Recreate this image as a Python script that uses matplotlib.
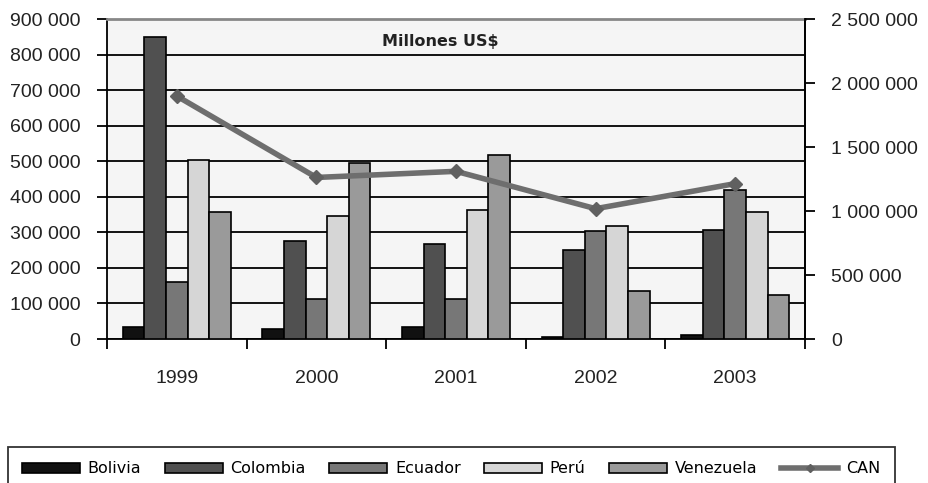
import matplotlib.pyplot as plt
import numpy as np

years = ['1999', '2000', '2001', '2002', '2003']
countries = ['Bolivia', 'Colombia', 'Ecuador', 'Perú', 'Venezuela']

bolivia = [35000, 28000, 35000, 6500, 12000]
colombia = [850000, 275000, 267000, 250000, 307000]
ecuador = [161000, 112000, 112000, 305000, 419000]
peru = [503000, 346000, 362000, 318000, 356000]
venezuela = [357000, 496000, 518000, 134000, 123000]
can = [1898000, 1262000, 1310000, 1018000, 1214000]

left_ticks = list(range(0, 900001, 100000))
right_ticks = list(range(0, 2500001, 500000))


def fmt(v):
    # thousands separated by a space
    return '{:,}'.format(v).replace(',', ' ')


plt.rcParams['font.family'] = ['Liberation Sans', 'DejaVu Sans']

fig = plt.figure(figsize=(9.29, 4.83), dpi=100)
ax = fig.add_axes([107 / 929, 1 - 339 / 483, (805 - 107) / 929, (339 - 19) / 483])
ax.set_facecolor('#f5f5f5')

series = [bolivia, colombia, ecuador, peru, venezuela]
colors = ['#111111', '#505050', '#777777', '#d6d6d6', '#9a9a9a']
x = np.arange(len(years))
w = 0.155
for k, (vals, col, name) in enumerate(zip(series, colors, countries)):
    ax.bar(x + (k - 2) * w, vals, width=w, color=col, edgecolor='black',
           linewidth=1.2, label=name, zorder=3)

ax.set_xlim(-0.5, len(years) - 0.5)
ax.set_ylim(0, 900000)
ax.set_yticks(left_ticks)
ax.set_yticklabels([fmt(v) for v in left_ticks], fontsize=14, color='#222222')
ax.yaxis.grid(True, color='black', linewidth=1.3, zorder=1)
ax.set_axisbelow(True)

ax.set_xticks(x)
ax.set_xticklabels(years, fontsize=14, color='#222222')
ax.set_xticks(np.arange(-0.5, len(years)), minor=True)
ax.tick_params(axis='x', which='major', length=0, pad=22)
ax.tick_params(axis='x', which='minor', length=7, width=1.3, direction='out')
ax.tick_params(axis='y', length=7, width=1.3, direction='out', pad=12)

for s in ['left', 'bottom', 'right']:
    ax.spines[s].set_linewidth(1.3)
    ax.spines[s].set_color('black')
ax.spines['top'].set_color('#888888')
ax.spines['top'].set_linewidth(2)

ax.text(0.477, 0.93, 'Millones US$', transform=ax.transAxes, ha='center',
        va='center', fontsize=11.5, fontweight='bold', color='#222222',
        family='DejaVu Sans')

ax2 = ax.twinx()
ax2.plot(x, can, color='#6e6e6e', linewidth=4, marker='D', markersize=7,
         markerfacecolor='#606060', markeredgecolor='#606060', label='CAN',
         zorder=5)
ax2.set_ylim(0, 2500000)
ax2.set_yticks(right_ticks)
ax2.set_yticklabels([fmt(v) for v in right_ticks], fontsize=14, color='#222222')
ax2.tick_params(axis='y', length=7, width=1.3, direction='out', pad=12)
ax2.spines['right'].set_linewidth(1.3)
ax2.spines['top'].set_visible(False)
ax2.spines['left'].set_visible(False)
ax2.spines['bottom'].set_visible(False)

h1, l1 = ax.get_legend_handles_labels()
h2, l2 = ax2.get_legend_handles_labels()
leg = fig.legend(h1 + h2, l1 + l2, loc='upper left',
                 bbox_to_anchor=(8 / 929, 1 - 447 / 483, (895 - 8) / 929, 0.0),
                 mode='expand', ncol=6, frameon=True,
                 fancybox=False, edgecolor='black', handlelength=3.6,
                 handleheight=0.6, handletextpad=0.5, borderpad=0.9,
                 borderaxespad=0, numpoints=1,
                 prop={'family': 'DejaVu Sans', 'size': 11.5})
leg.get_frame().set_linewidth(1.3)
leg.legend_handles[-1].set_markersize(4)

fig.savefig('out.png', dpi=100)
